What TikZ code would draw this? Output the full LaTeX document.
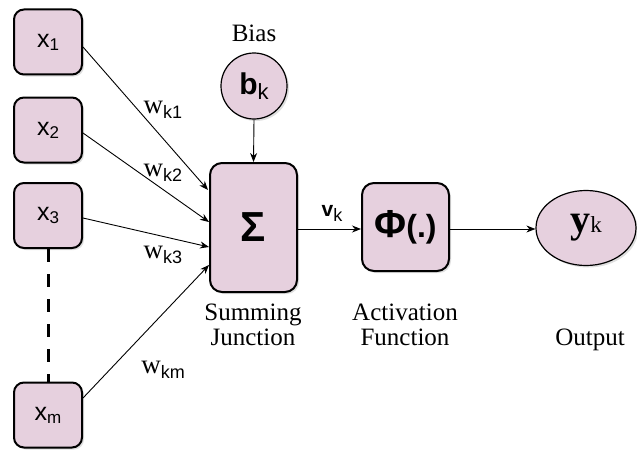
\documentclass[tikz,border=0pt]{standalone}
\usepackage{fontspec}
\setmainfont{Liberation Serif}
\setsansfont{Liberation Sans}
\usetikzlibrary{shapes.geometric,shadows,calc,arrows.meta}
\definecolor{nodefill}{RGB}{230,208,222}
\newcommand{\fs}[1]{\fontsize{#1}{#1}\selectfont}
\newcommand{\xin}[1]{{\sffamily\fs{25}x}{\sffamily\fs{17}\raisebox{-3pt}{#1}}}
\newcommand{\wk}[1]{{\rmfamily\fs{27}w}{\sffamily\fs{18}\raisebox{-5pt}{k#1}}}
\newcommand{\serif}[1]{{\rmfamily\mdseries\fs{25}#1}}
\begin{document}
\begin{tikzpicture}[x=1pt,y=-1pt,
  inbox/.style={draw=black,line width=2pt,fill=nodefill,rounded corners=10pt,
    minimum width=68pt,minimum height=65pt,inner sep=0pt,
    drop shadow={opacity=0.25,shadow xshift=2pt,shadow yshift=-2pt}},
  bigbox/.style={draw=black,line width=2pt,fill=nodefill,rounded corners=12pt,inner sep=0pt,
    drop shadow={opacity=0.25,shadow xshift=2pt,shadow yshift=-2pt}},
  conn/.style={line width=0.9pt,-{Stealth[length=9pt,width=7pt]}},
  lbl/.style={inner sep=0pt,anchor=base}]
\useasboundingbox[fill=white] (0,0) rectangle (637,452);
\node[inbox] (x1) at (48,42) {\xin{1}};
\node[inbox] (x2) at (48,130) {\xin{2}};
\node[inbox] (x3) at (48,215.5) {\xin{3}};
\node[inbox] (xm) at (48,415) {\xin{m}};
\node[bigbox,minimum width=87pt,minimum height=129pt] (sum) at (253.5,227.5) {\sffamily\bfseries\fs{42}Σ};
\node[bigbox,minimum width=87pt,minimum height=88pt] (phi) at (405.5,227) {\sffamily\bfseries\fs{39}Φ\fs{32}(.)};
\node[ellipse,draw=black,line width=1.2pt,fill=nodefill,minimum width=100pt,minimum height=75pt,inner sep=0pt,
  drop shadow={opacity=0.25,shadow xshift=2pt,shadow yshift=-2pt}] (y) at (586,228) {{\rmfamily\bfseries\fs{40}y}{\rmfamily\fs{23}k}};
\node[circle,draw=black,line width=1.2pt,fill=nodefill,minimum size=66pt,inner sep=0pt,
  drop shadow={opacity=0.25,shadow xshift=2pt,shadow yshift=-2pt}] (b) at (254,86) {{\sffamily\bfseries\fs{30}b}{\sffamily\fs{22}\raisebox{-5pt}{k}}};
\node[lbl] (biaslbl) at (254,42) {\serif{Bias}};
\node[lbl] (sumlbl1) at (253,320) {\serif{Summing}};
\node[lbl] (sumlbl2) at (253,345) {\serif{Junction}};
\node[lbl] (actlbl1) at (405,320) {\serif{Activation}};
\node[lbl] (actlbl2) at (405,345) {\serif{Function}};
\node[lbl] (outlbl) at (590,345) {\serif{Output}};
\node[inner sep=0pt] (w1) at (163,110) {\wk{1}};
\node[inner sep=0pt] (w2) at (163,173) {\wk{2}};
\node[inner sep=0pt] (w3) at (163,255) {\wk{3}};
\node[inner sep=0pt] (wm) at (163,370) {\wk{m}};
\node[inner sep=0pt] (vk) at (332,213) {{\sffamily\bfseries\fs{21}v}{\sffamily\fs{18}\raisebox{-5pt}{k}}};
\draw[conn] ($(x1.east)+(0,5)$) -- ($(sum.west)+(-1,-37.5)$);
\draw[conn] ($(x2.east)+(0,3)$) -- ($(sum.west)+(0,-5.5)$);
\draw[conn] ($(x3.east)+(0,2.5)$) -- ($(sum.west)+(0,19.5)$);
\draw[conn] ($(xm.east)+(0,-17)$) -- ($(sum.west)+(0,37.5)$);
\draw[conn] (b.south) -- (sum.north);
\draw[conn] ($(sum.east)+(0,1.5)$) -- ($(phi.west)+(0,2)$);
\draw[conn] ($(phi.east)+(0,2)$) -- ($(y.west)+(0,1)$);
\draw[line width=3pt,dash pattern=on 13pt off 12pt] (x3.south) -- (xm.north);
\end{tikzpicture}
\end{document}
